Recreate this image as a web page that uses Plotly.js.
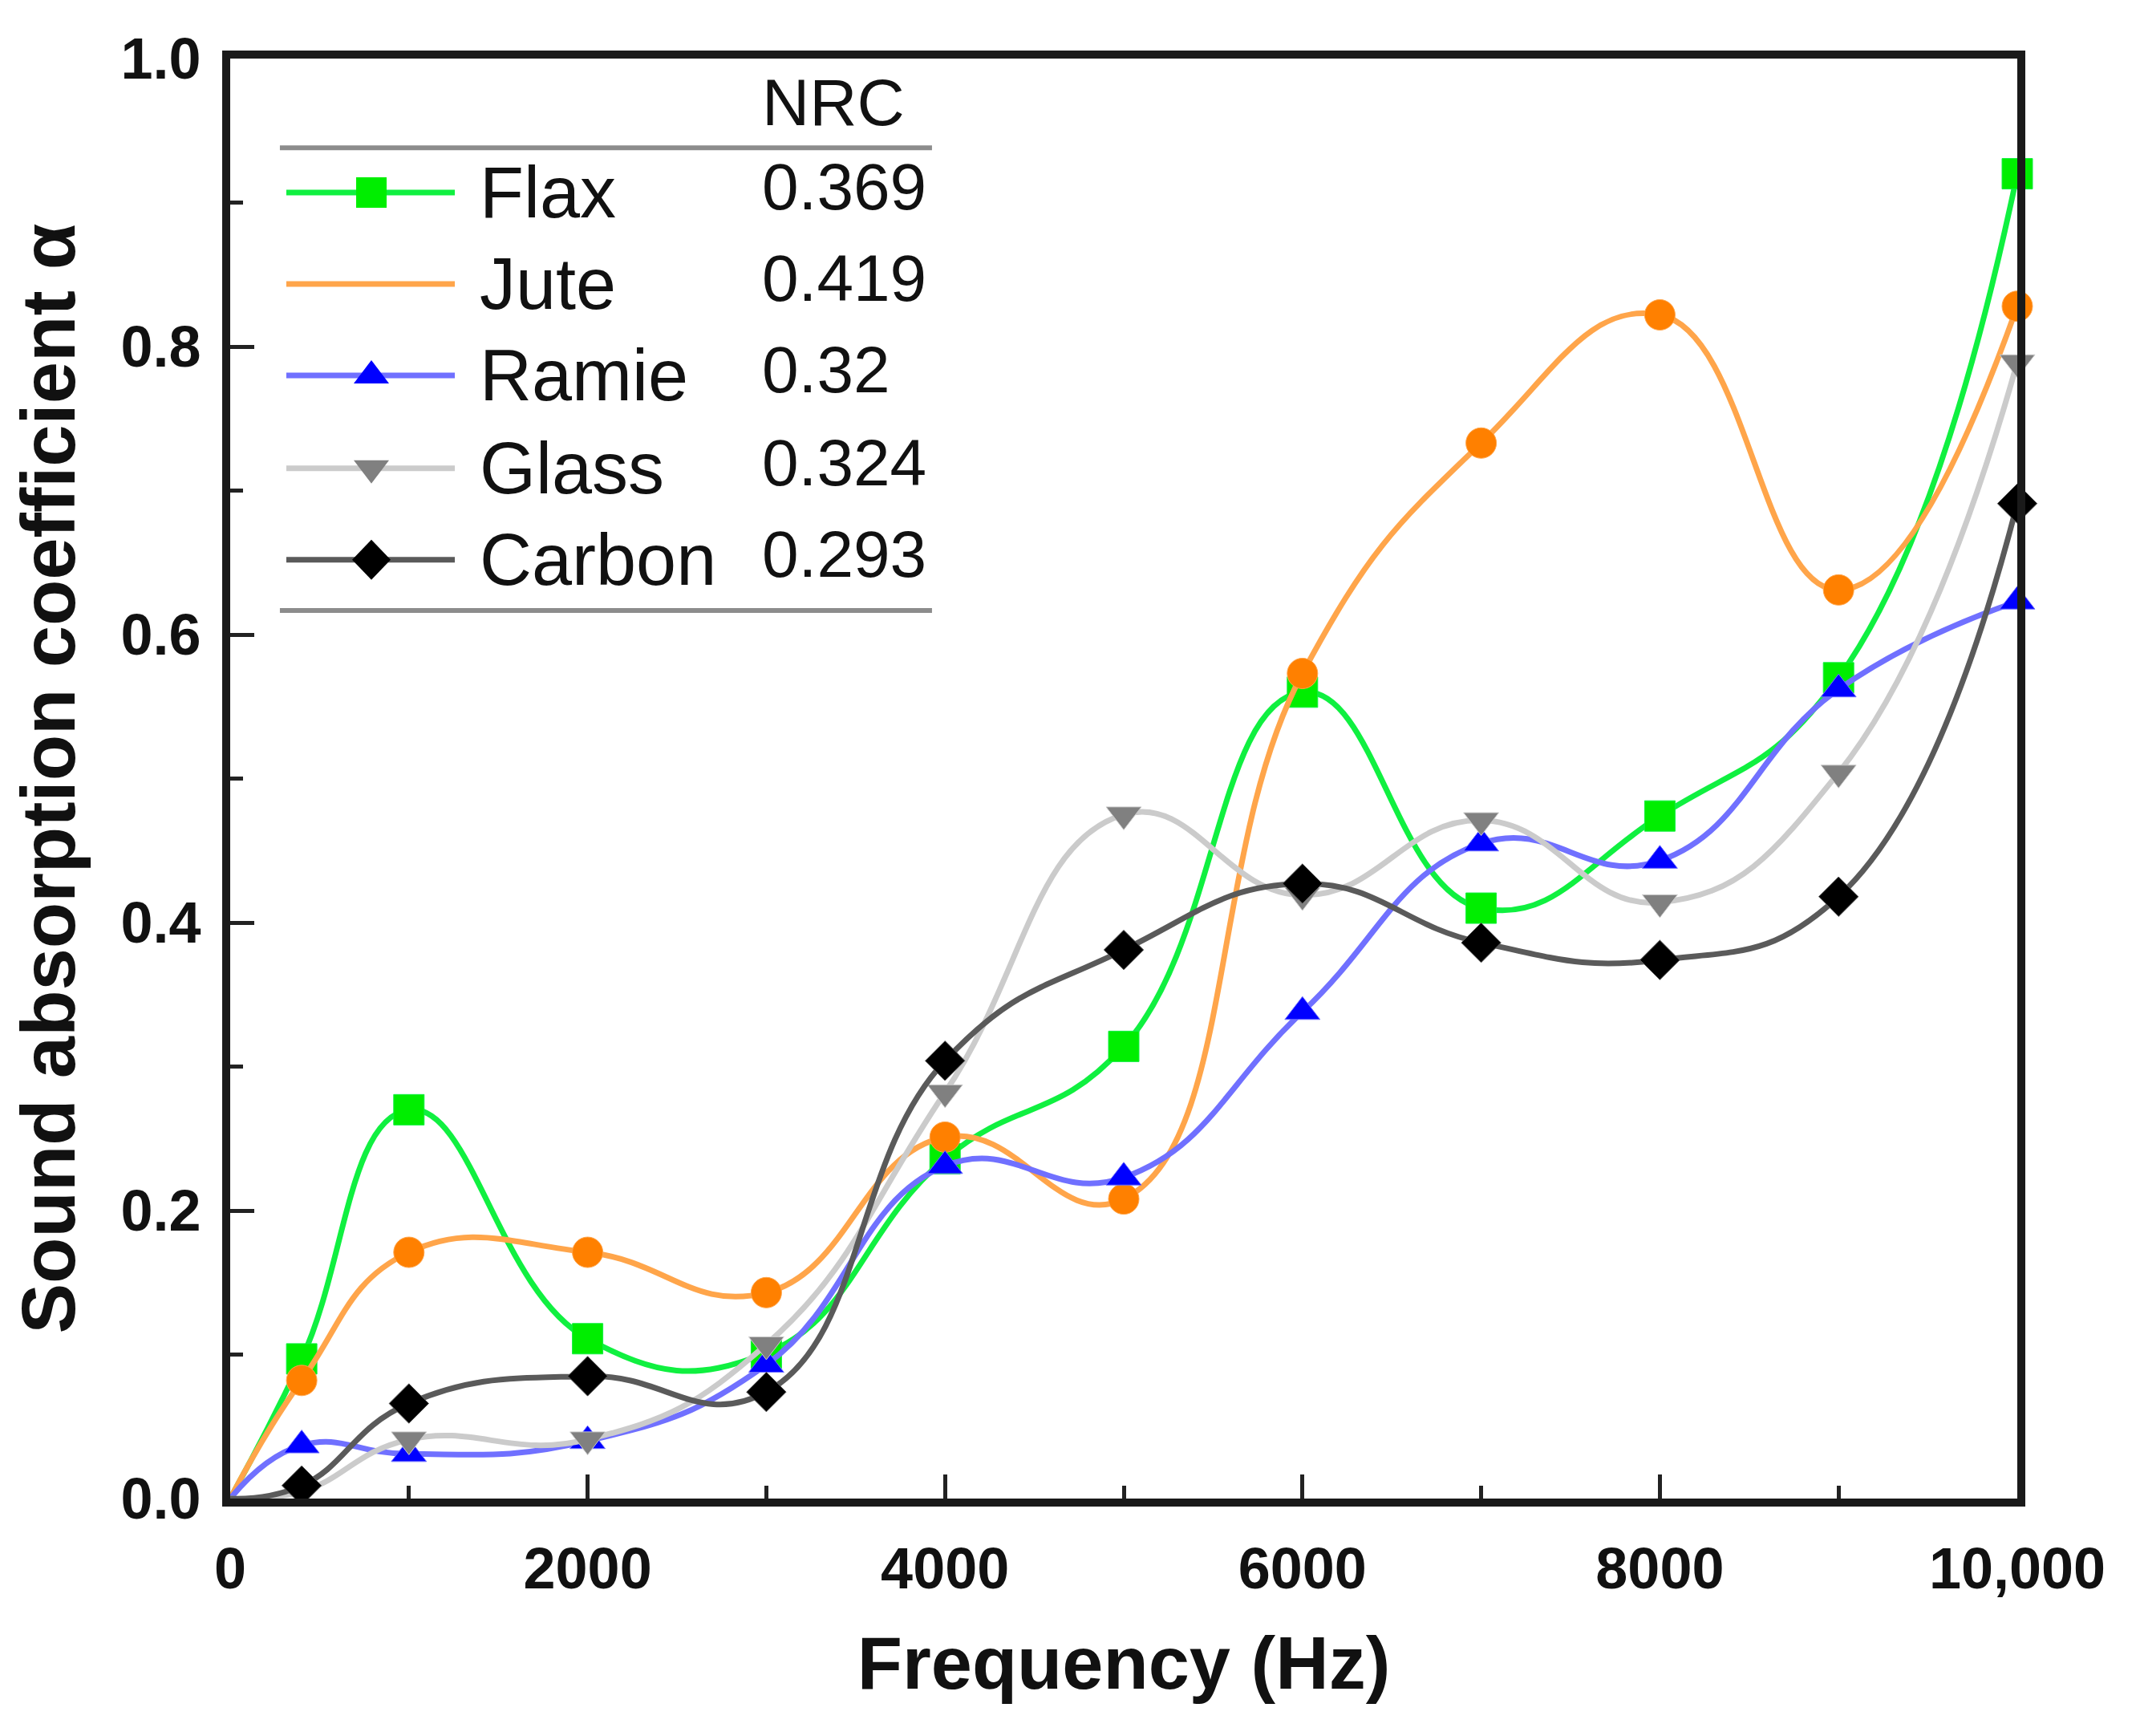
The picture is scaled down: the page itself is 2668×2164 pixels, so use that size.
<!DOCTYPE html>
<html>
<head>
<meta charset="utf-8">
<script src="https://cdn.plot.ly/plotly-3.0.1.min.js"></script>
<style>
  html, body { margin: 0; padding: 0; background: #fff; }
  #chart { width: 2668px; height: 2164px; }
</style>
</head>
<body>
<div id="chart"></div>
<script>
// frequency (Hz) and absorption coefficient
var freq   = [0, 400, 1000, 2000, 3000, 4000, 5000, 6000, 7000, 8000, 9000, 10000];
var flax   = [0, 0.097, 0.270, 0.111, 0.101, 0.236, 0.314, 0.560, 0.410, 0.474, 0.570, 0.920];
var jute   = [0, 0.082, 0.171, 0.171, 0.143, 0.251, 0.208, 0.573, 0.733, 0.822, 0.631, 0.828];
var ramie  = [0, 0.037, 0.031, 0.040, 0.093, 0.231, 0.223, 0.338, 0.455, 0.443, 0.562, 0.623];
var glass  = [0, 0.005, 0.041, 0.041, 0.107, 0.282, 0.475, 0.419, 0.471, 0.414, 0.504, 0.789];
var carbon = [0, 0.009, 0.066, 0.085, 0.074, 0.304, 0.381, 0.427, 0.386, 0.374, 0.418, 0.691];

var seriesNames = ['Flax', 'Jute', 'Ramie', 'Glass', 'Carbon'];
var nrcValues   = ['0.369', '0.419', '0.32', '0.324', '0.293'];

var xTickVals = [0, 2000, 4000, 6000, 8000, 10000];
var xTickText = ['0', '2000', '4000', '6000', '8000', '10,000'];

var seriesData = [flax, jute, ramie, glass, carbon];
var lineColors   = ['#10f040', '#ffa54a', '#7070ff', '#cbcbcb', '#5a5a5a'];
var markerColors = ['#00ee00', '#ff8000', '#0000ff', '#808080', '#000000'];
var symbols      = ['square', 'circle', 'triangle-up', 'triangle-down', 'diamond'];

var FONT = 'Arial, "Liberation Sans", sans-serif';
var MS = 38;

var traces = [];
for (var i = 0; i < seriesNames.length; i++) {
    // no marker on the origin point, the curves just start there
    var sizes = freq.map(function (f) { return f === 0 ? 0 : MS; });
    traces.push({
        x: freq,
        y: seriesData[i],
        name: seriesNames[i],
        type: 'scatter',
        mode: 'lines+markers',
        line: {color: lineColors[i], width: 7, shape: 'spline', smoothing: 1.3},
        marker: {symbol: symbols[i], size: sizes, color: markerColors[i], opacity: 1},
        showlegend: false,
        cliponaxis: false
    });
}

// hand built legend with the NRC column (paper coords)
var legX0 = 0.0314, legX1 = 0.1257, legMark = 0.079, legText = 0.1387, legNrc = 0.2967;
var ruleX0 = 0.0278, ruleX1 = 0.3927;
var rowY = [0.907, 0.8435, 0.780, 0.7155, 0.652];

var markerPaths = {
    'square': 'M-19,-19H19V19H-19Z',
    'circle': 'M19,0A19,19 0 1,1 0,-19A19,19 0 0,1 19,0Z',
    'triangle-up': 'M-22,-10H22L0,19Z',
    'triangle-down': 'M-22,10H22L0,-19Z',
    'diamond': 'M24,0L0,25L-24,0L0,-25Z'
};

var shapes = [
    {type: 'line', xref: 'paper', yref: 'paper', x0: ruleX0, x1: ruleX1, y0: 0.938, y1: 0.938,
     line: {color: '#8c8c8c', width: 6}},
    {type: 'line', xref: 'paper', yref: 'paper', x0: ruleX0, x1: ruleX1, y0: 0.6167, y1: 0.6167,
     line: {color: '#8c8c8c', width: 6}}
];
var annotations = [
    {xref: 'paper', yref: 'paper', x: legNrc, y: 0.9694, xanchor: 'left', yanchor: 'middle',
     text: 'NRC', showarrow: false, font: {family: FONT, size: 82, color: '#111'}}
];

for (var k = 0; k < seriesNames.length; k++) {
    shapes.push({type: 'line', xref: 'paper', yref: 'paper', x0: legX0, x1: legX1, y0: rowY[k], y1: rowY[k],
                 line: {color: lineColors[k], width: 7}});
    shapes.push({type: 'path', xref: 'paper', yref: 'paper', xsizemode: 'pixel', ysizemode: 'pixel',
                 xanchor: legMark, yanchor: rowY[k], path: markerPaths[symbols[k]],
                 fillcolor: markerColors[k], line: {width: 0}});
    annotations.push({xref: 'paper', yref: 'paper', x: legText, y: rowY[k], xanchor: 'left', yanchor: 'middle',
                      text: seriesNames[k], showarrow: false, font: {family: FONT, size: 90, color: '#111'}});
    annotations.push({xref: 'paper', yref: 'paper', x: legNrc, y: rowY[k] + 0.004, xanchor: 'left', yanchor: 'middle',
                      text: nrcValues[k], showarrow: false, font: {family: FONT, size: 82, color: '#111'}});
}

var layout = {
    width: 2668,
    height: 2164,
    margin: {l: 287, r: 153, t: 73, b: 296},
    paper_bgcolor: '#fff',
    plot_bgcolor: '#fff',
    font: {family: FONT, color: '#111'},
    xaxis: {
        range: [0, 10000],
        tickvals: xTickVals,
        ticktext: xTickText,
        ticks: 'inside',
        ticklen: 30,
        tickwidth: 5,
        tickcolor: '#222',
        minor: {dtick: 1000, ticks: 'inside', ticklen: 16, tickwidth: 5, tickcolor: '#222'},
        tickfont: {family: FONT, size: 72, color: '#111', weight: 'bold'},
        ticklabelstandoff: 16,
        showline: true,
        linewidth: 10,
        linecolor: '#1a1a1a',
        mirror: true,
        showgrid: false,
        zeroline: false,
        automargin: false,
        title: {text: '<b>Frequency (Hz)</b>', font: {family: FONT, size: 92, color: '#111'}, standoff: 50}
    },
    yaxis: {
        range: [0, 1.0],
        dtick: 0.2,
        tick0: 0,
        tickformat: '.1f',
        ticks: 'inside',
        ticklen: 30,
        tickwidth: 5,
        tickcolor: '#222',
        minor: {dtick: 0.1, ticks: 'inside', ticklen: 16, tickwidth: 5, tickcolor: '#222'},
        tickfont: {family: FONT, size: 72, color: '#111', weight: 'bold'},
        ticklabelstandoff: 12,
        showline: true,
        linewidth: 10,
        linecolor: '#1a1a1a',
        mirror: true,
        showgrid: false,
        zeroline: false,
        automargin: false,
        title: {text: '<b>Sound absorption coefficient α</b>', font: {family: FONT, size: 94, color: '#111'}, standoff: 30}
    },
    shapes: shapes,
    annotations: annotations,
    showlegend: false
};

Plotly.newPlot('chart', traces, layout, {staticPlot: true});
</script>
</body>
</html>
